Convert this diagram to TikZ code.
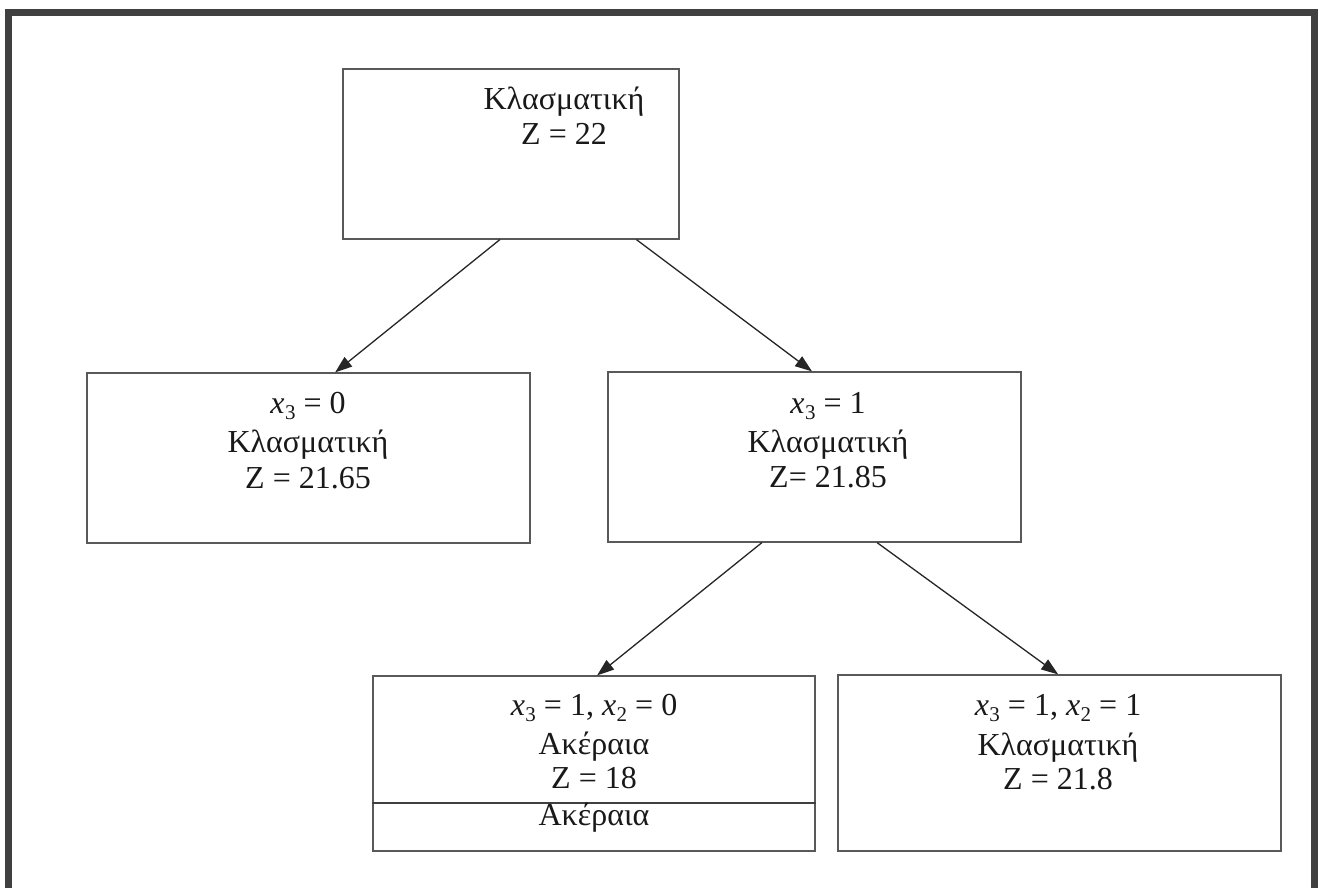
\documentclass[tikz,border=0pt]{standalone}
\usepackage{fontspec}
\setmainfont{Liberation Serif}
\usetikzlibrary{calc,arrows.meta}
\newcommand{\xv}[1]{\textit{x}\kern0.5pt\raisebox{-0.2em}{\fontsize{21}{21}\selectfont #1}}
\begin{document}
\begin{tikzpicture}[x=1pt,y=-1pt,
  box/.style={draw=black!65,line width=1.2pt,inner sep=0pt},
  txt/.style={anchor=base,inner sep=0pt,text=black!90,font=\fontsize{32}{38}\selectfont},
  arr/.style={draw=black!85,line width=1.3pt,-{Triangle[length=17pt,width=12pt]}},
  frame/.style={draw=black!75,line width=7pt}]
\useasboundingbox (0,0) rectangle (1318,888);
\fill[white] (0,0) rectangle (1318,888);
% outer frame
\draw[frame] (8,888) -- (8,12.5) -- (1314.5,12.5) -- (1314.5,888);
% boxes
\node[box,minimum width=336pt,minimum height=170pt] (root) at (511,154) {};
\node[box,minimum width=443pt,minimum height=170pt] (left) at (308.5,458) {};
\node[box,minimum width=413pt,minimum height=170pt] (right) at (814.5,457) {};
\node[box,minimum width=442pt,minimum height=175pt] (bl) at (594,763.5) {};
\node[box,minimum width=443pt,minimum height=176pt] (br) at (1059.5,763) {};
\coordinate (blsepL) at ($(bl.west)+(0,39.5)$);
\coordinate (blsepR) at ($(bl.east)+(0,39.5)$);
\draw[draw=black!75,line width=1.2pt] (blsepL) -- (blsepR);
% texts
\node[txt] (t1a) at (564,110) {Κλασματική};
\node[txt] (t1b) at (564,145) {Z = 22};
\node[txt] (t2a) at (308,413) {\xv{3} = 0};
\node[txt] (t2b) at (308,452) {Κλασματική};
\node[txt] (t2c) at (308,488) {Z = 21.65};
\node[txt] (t3a) at (828,413) {\xv{3} = 1};
\node[txt] (t3b) at (828,452) {Κλασματική};
\node[txt] (t3c) at (828,487) {Z= 21.85};
\node[txt] (t4a) at (594,715) {\xv{3} = 1, \xv{2} = 0};
\node[txt] (t4b) at (594,754) {Ακέραια};
\node[txt] (t4c) at (594,788) {Z = 18};
\node[txt] (t4d) at (594,825) {Ακέραια};
\node[txt] (t5a) at (1058,715) {\xv{3} = 1, \xv{2} = 1};
\node[txt] (t5b) at (1058,755) {Κλασματική};
\node[txt] (t5c) at (1058,789) {Z = 21.8};
% arrows
\draw[arr] ($(root.south west)!0.467!(root.south east)$) -- ($(left.north west)!0.56!(left.north east)$);
\draw[arr] ($(root.south west)!0.872!(root.south east)$) -- ($(right.north west)!0.494!(right.north east)$);
\draw[arr] ($(right.south west)!0.373!(right.south east)$) -- ($(bl.north west)!0.507!(bl.north east)$);
\draw[arr] ($(right.south west)!0.651!(right.south east)$) -- ($(br.north west)!0.497!(br.north east)$);
\end{tikzpicture}
\end{document}
